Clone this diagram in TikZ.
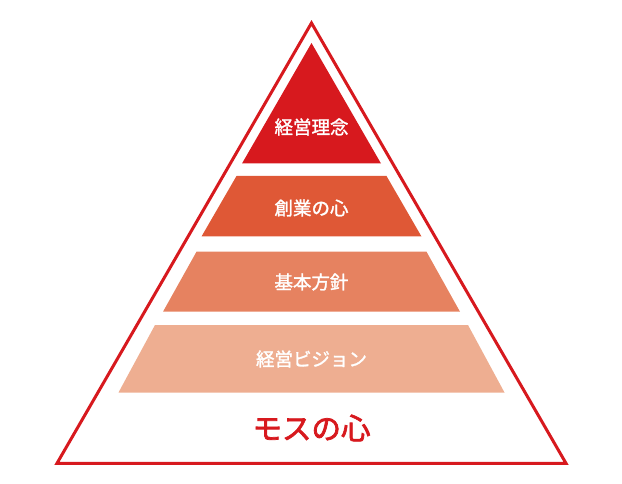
\documentclass[tikz,border=0pt]{standalone}
\usepackage{fontspec}
\usepackage{tikz}
\newfontfamily\jpfont[FakeBold=2.5]{Noto Sans CJK JP}
\newfontfamily\jplabel[FakeBold=1.6]{Noto Sans CJK JP}
\definecolor{mosred}{RGB}{215,25,30}
\definecolor{layertwo}{RGB}{223,88,54}
\definecolor{layerthree}{RGB}{230,130,96}
\definecolor{layerfour}{RGB}{238,174,145}
\begin{document}
\begin{tikzpicture}[x=1pt,y=-1pt]
\tikzstyle{every node}+=[inner sep=0pt, text=white, font=\jplabel\fontsize{18.5}{18.5}\selectfont]
\useasboundingbox (0,0) rectangle (622,484);
\draw [mosred, line width=3pt] (311.5,23) -- (566,463.3) -- (57,463.3) -- cycle;
\fill [mosred] (311.5,43) -- (381,163.5) -- (242,163.5) -- cycle;
\fill [layertwo] (236.5,176) -- (386.5,176) -- (421.5,236.5) -- (201.5,236.5) -- cycle;
\fill [layerthree] (196.5,251.7) -- (426.5,251.7) -- (460,311.7) -- (163,311.7) -- cycle;
\fill [layerfour] (155,325) -- (468,325) -- (504.5,392.5) -- (118.5,392.5) -- cycle;
\draw (311.5,127) node (rinen) {経営理念};
\draw (311.5,208) node (sogyo) {創業の心};
\draw (311.5,282) node (hoshin) {基本方針};
\draw (311.5,359) node (vision) {経営ビジョン};
\draw (311.5,428) node [text=mosred, font=\jpfont\fontsize{29.5}{29.5}\selectfont] (moskokoro) {モスの心};
\end{tikzpicture}
\end{document}
